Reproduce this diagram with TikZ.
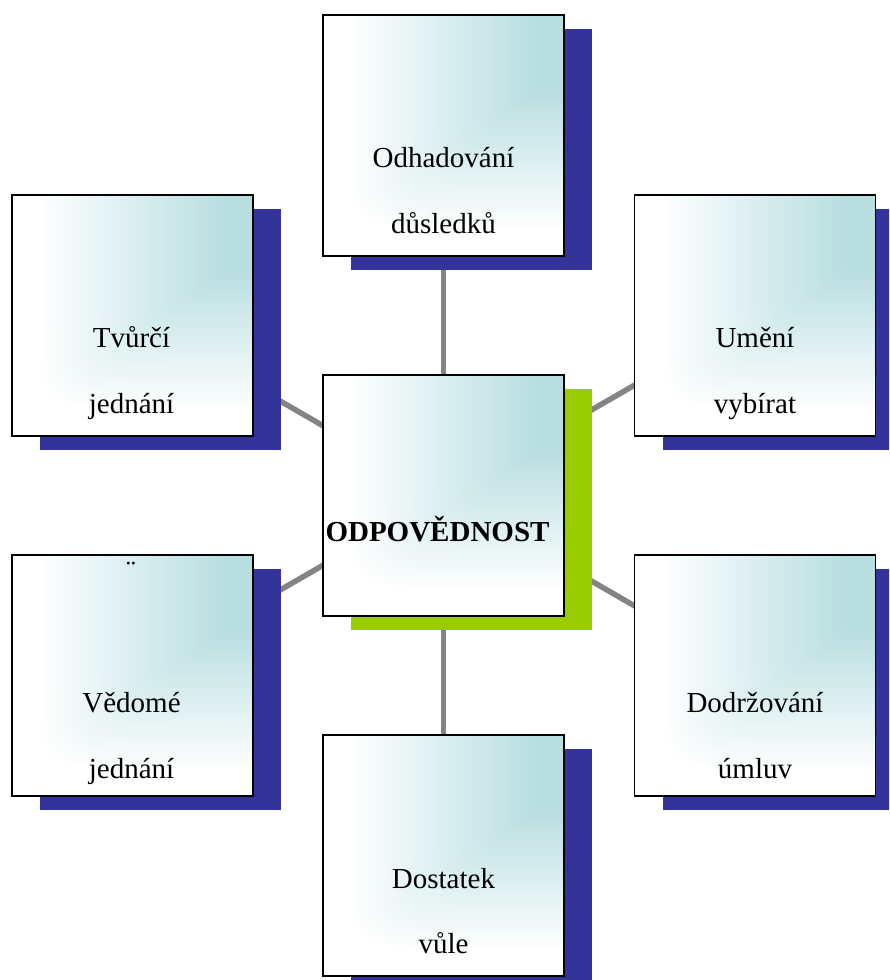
\documentclass[tikz,border=0pt]{standalone}
\usepackage{fontspec}
\setmainfont{Liberation Serif}
\usetikzlibrary{shadows,backgrounds,calc}

\definecolor{shadowblue}{RGB}{51,51,153}
\definecolor{shadowgreen}{RGB}{153,204,0}
\definecolor{linkgray}{RGB}{132,132,132}

% teal in the upper right corner, fading to white towards the left and the bottom
% (the path box covers the inner 50bp square of the shading; rounded max of the
% two distances from the right and the top edge)
\pgfdeclarefunctionalshading{cornerteal}{\pgfpoint{-50bp}{-50bp}}{\pgfpoint{50bp}{50bp}}{}{%
  25 exch sub 50 div
  0.3 sub 0.6 div dup 0 lt {pop 0} if
  exch 25 exch sub 50 div
  0.12 sub 0.78 div dup 0 lt {pop 0} if
  dup mul dup mul dup mul exch dup mul dup mul dup mul add sqrt sqrt sqrt
  dup 1 gt {pop 1} if
  dup 0.28 mul 0.72 add exch dup 0.13 mul 0.87 add exch 0.12 mul 0.88 add}

\tikzset{
  card/.style={rectangle, minimum width=241pt, minimum height=241pt, inner sep=0pt,
    draw=black, line width=1.4pt, shading=cornerteal,
    general shadow={fill=#1, shadow xshift=28pt, shadow yshift=-14pt}},
  card/.default=shadowblue,
  lbl/.style={inner sep=0pt, anchor=base, font=\fontsize{29}{35}\selectfont},
  link/.style={draw=linkgray, line width=5.5pt}
}

\begin{document}
\begin{tikzpicture}[x=1pt, y=-1pt]
\useasboundingbox (0,0) rectangle (889,980);
\clip (0,0) rectangle (889,980);

% boxes
\node[card] (top) at (443.5,135.5) {};
\node[card] (tl)  at (132.5,315.5) {};
\node[card] (tr)  at (755,315.5) {};
\node[card=shadowgreen] (mid) at (443.5,495.5) {};
\node[card] (bl)  at (132.5,675.5) {};
\node[card] (br)  at (755,675.5) {};
\node[card] (bot) at (443.5,855.5) {};

% connectors behind everything
\begin{scope}[on background layer]
  \foreach \n in {top,tl,tr,bl,br,bot}
    \draw[link] (mid.center) -- (\n.center);
\end{scope}

% labels
\node[lbl] (topa) at (443.5,167.7) {Odhadování};
\node[lbl] (topb) at (443.5,233) {důsledků};
\node[lbl] (tla) at (131.5,347.7) {Tvůrčí};
\node[lbl] (tlb) at (131.5,413) {jednání};
\node[lbl] (tra) at (755,347.7) {Umění};
\node[lbl] (trb) at (755,413) {vybírat};
\node[lbl, font=\fontsize{29}{35}\selectfont\bfseries] (mida) at (437.5,541.7) {ODPOVĚDNOST};
\node[lbl, anchor=center] (blx) at (131,571) {\char"00A8};
\node[lbl] (bla) at (131.5,712) {Vědomé};
\node[lbl] (blb) at (131.5,778) {jednání};
\node[lbl] (bra) at (755,712) {Dodržování};
\node[lbl] (brb) at (755,778) {úmluv};
\node[lbl] (bota) at (443.5,888) {Dostatek};
\node[lbl] (botb) at (443.5,953) {vůle};
\end{tikzpicture}
\end{document}
